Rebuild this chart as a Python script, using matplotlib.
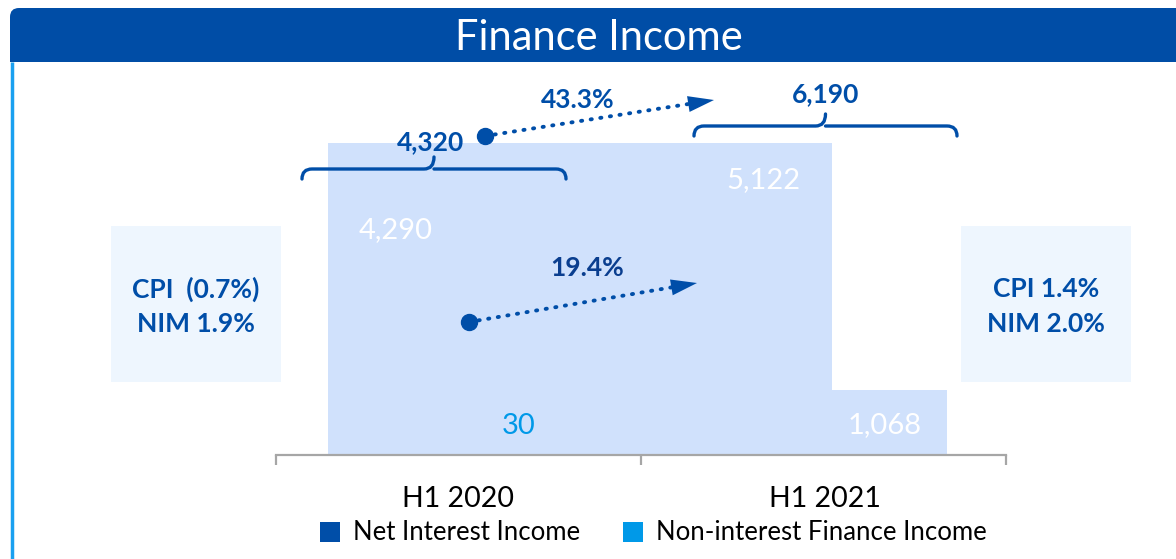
import matplotlib
matplotlib.use("Agg")
import matplotlib.pyplot as plt
from matplotlib.patches import Rectangle, FancyBboxPatch, Polygon
from matplotlib.path import Path
from matplotlib.patches import PathPatch

plt.rcParams['font.family'] = ['Lato', 'DejaVu Sans']

# ---- data ----
categories = ["H1 2020", "H1 2021"]
net_interest = [4290, 5122]
non_interest = [30, 1068]
totals = [4320, 6190]
growth_total = "43.3%"
growth_nii = "19.4%"
cpi_labels = ["CPI  (0.7%)", "CPI 1.4%"]
nim_labels = ["NIM 1.9%", "NIM 2.0%"]
series_names = ["Net Interest Income", "Non-interest Finance Income"]
title = "Finance Income"

W, H = 1176, 559
fig = plt.figure(figsize=(W / 100, H / 100), dpi=100)
fig.patch.set_facecolor("white")

DARK = "#004EA8"
DARK2 = "#0A3E8F"
LIGHT = "#0099E8"
BARC = "#D0E1FC"
BOXC = "#EEF6FE"

# overlay axes in pixel coordinates (decorations)
ov = fig.add_axes([0, 0, 1, 1], zorder=0)
ov.set_xlim(0, W)
ov.set_ylim(H, 0)
ov.axis("off")

# banner
ov.add_patch(FancyBboxPatch((10, 8), 1200, 54, boxstyle="round,pad=0,rounding_size=9",
                            fc="#004DA6", ec="none"))
ov.add_patch(Rectangle((10, 35), 1200, 27, fc="#004DA6", ec="none"))
ov.text(599, 38, title, color="white", fontsize=30, ha="center", va="center")
ov.plot([11.5, 11.5], [62, 559], color="#1AA0F0", lw=2.5, solid_capstyle="butt")

# CPI / NIM boxes
for cx, c, n in [(196, cpi_labels[0], nim_labels[0]), (1046, cpi_labels[1], nim_labels[1])]:
    ov.add_patch(Rectangle((cx - 85, 226), 170, 156, fc=BOXC, ec="none"))
    ov.text(cx, 289, c, color=DARK, fontsize=19, fontweight="bold", ha="center", va="center")
    ov.text(cx, 324, n, color=DARK, fontsize=19, fontweight="bold", ha="center", va="center")

# main axes
ax_left, ax_right = 276, 1006
ax_bot, ax_top = 455, 62
ax = fig.add_axes([ax_left / W, 1 - ax_bot / H, (ax_right - ax_left) / W, (ax_bot - ax_top) / H],
                  zorder=1)
ax.patch.set_alpha(0)
ymax = max(net_interest) * (ax_bot - ax_top) / 312
ax.set_xlim(-0.5, 1.5)
ax.set_ylim(0, ymax)

nii_left = [-0.3575, -0.3575]
nii_width = [0.62, 1.3808]
nfi_left = [0.05, 1.0233]
nfi_width = [0.4, 0.3151]
ax.bar(nii_left, net_interest, width=nii_width, align="edge", color=BARC, zorder=1)
ax.bar(nfi_left, non_interest, width=nfi_width, align="edge", color=BARC, zorder=1)

for s in ["left", "right", "top"]:
    ax.spines[s].set_visible(False)
ax.spines["bottom"].set_color("#A6A6A6")
ax.spines["bottom"].set_linewidth(1.6)
ax.spines["bottom"].set_zorder(3)
ax.set_yticks([])
ax.set_xticks([-0.5, 0.5, 1.5])
ax.set_xticklabels([])
ax.tick_params(axis="x", which="major", length=7, width=1.6, color="#A6A6A6")
ax.set_xticks([0, 1.005], minor=True)
ax.set_xticklabels(categories, minor=True)
ax.tick_params(axis="x", which="minor", length=0, pad=22, labelsize=20.5, labelcolor="black")

# value labels
def fmt(v):
    return f"{v:,}"

ov2 = fig.add_axes([0, 0, 1, 1], zorder=2)
ov2.set_xlim(0, W)
ov2.set_ylim(H, 0)
ov2.axis("off")

ov2.text(396, 230, fmt(net_interest[0]), color="white", fontsize=21, ha="center", va="center")
ov2.text(763, 180, fmt(net_interest[1]), color="white", fontsize=21, ha="center", va="center")
ov2.text(519, 426, fmt(non_interest[0]), color=LIGHT, fontsize=21, ha="center", va="center")
ov2.text(885, 425, fmt(non_interest[1]), color="white", fontsize=21, ha="center", va="center")


def brace(xl, xr, ytop, ybot, ypeak):
    xm = (xl + xr) / 2
    r = ybot - ytop
    verts = [(xl, ybot), (xl, ytop), (xl + r, ytop),
             (xm - r, ytop), (xm, ytop), (xm, ypeak),
             (xm, ytop), (xm, ytop), (xm + r, ytop),
             (xr - r, ytop), (xr, ytop), (xr, ybot)]
    codes = [Path.MOVETO, Path.CURVE3, Path.CURVE3,
             Path.LINETO, Path.CURVE3, Path.CURVE3,
             Path.MOVETO, Path.CURVE3, Path.CURVE3,
             Path.LINETO, Path.CURVE3, Path.CURVE3]
    ov2.add_patch(PathPatch(Path(verts, codes), fc="none", ec=DARK, lw=2.4, capstyle="round"))


brace(302, 566, 169, 179, 157)
brace(694, 957, 126, 136, 114)
ov2.text(431, 142, fmt(totals[0]), color=DARK, fontsize=19, fontweight="bold", ha="center", va="center")
ov2.text(826, 94, fmt(totals[1]), color=DARK, fontsize=19, fontweight="bold", ha="center", va="center")


def dotted_arrow(x0, y0, x1, y1):
    ov2.plot([x0], [y0], "o", color=DARK, ms=11.5, zorder=5)
    dx, dy = x1 - x0, y1 - y0
    L = (dx ** 2 + dy ** 2) ** 0.5
    ux, uy = dx / L, dy / L
    hl, hw = 26, 8
    bx, by = x1 - ux * hl, y1 - uy * hl
    ov2.plot([x0, bx], [y0, by], color=DARK, lw=2.8, ls=(0, (0.3, 2.2)),
             dash_capstyle="round", zorder=4)
    px, py = -uy, ux
    ov2.add_patch(Polygon([(x1, y1), (bx + px * hw, by + py * hw), (bx - px * hw, by - py * hw)],
                          closed=True, fc=DARK, ec="none", zorder=5))


dotted_arrow(485, 136, 714, 100)
dotted_arrow(469, 322, 697, 283)
ov2.text(578, 100, growth_total, color=DARK, fontsize=19, fontweight="bold", ha="center", va="center")
ov2.text(587, 268, growth_nii, color=DARK2, fontsize=19, fontweight="bold", ha="center", va="center")

# legend
for x, col, name in [(320, DARK, series_names[0]), (623, LIGHT, series_names[1])]:
    ov2.add_patch(Rectangle((x, 522), 20, 20, fc=col, ec="none"))
    ov2.text(x + 33, 533, name, color="black", fontsize=18.5, ha="left", va="center")

fig.savefig("out.png", dpi=100, facecolor="white")
